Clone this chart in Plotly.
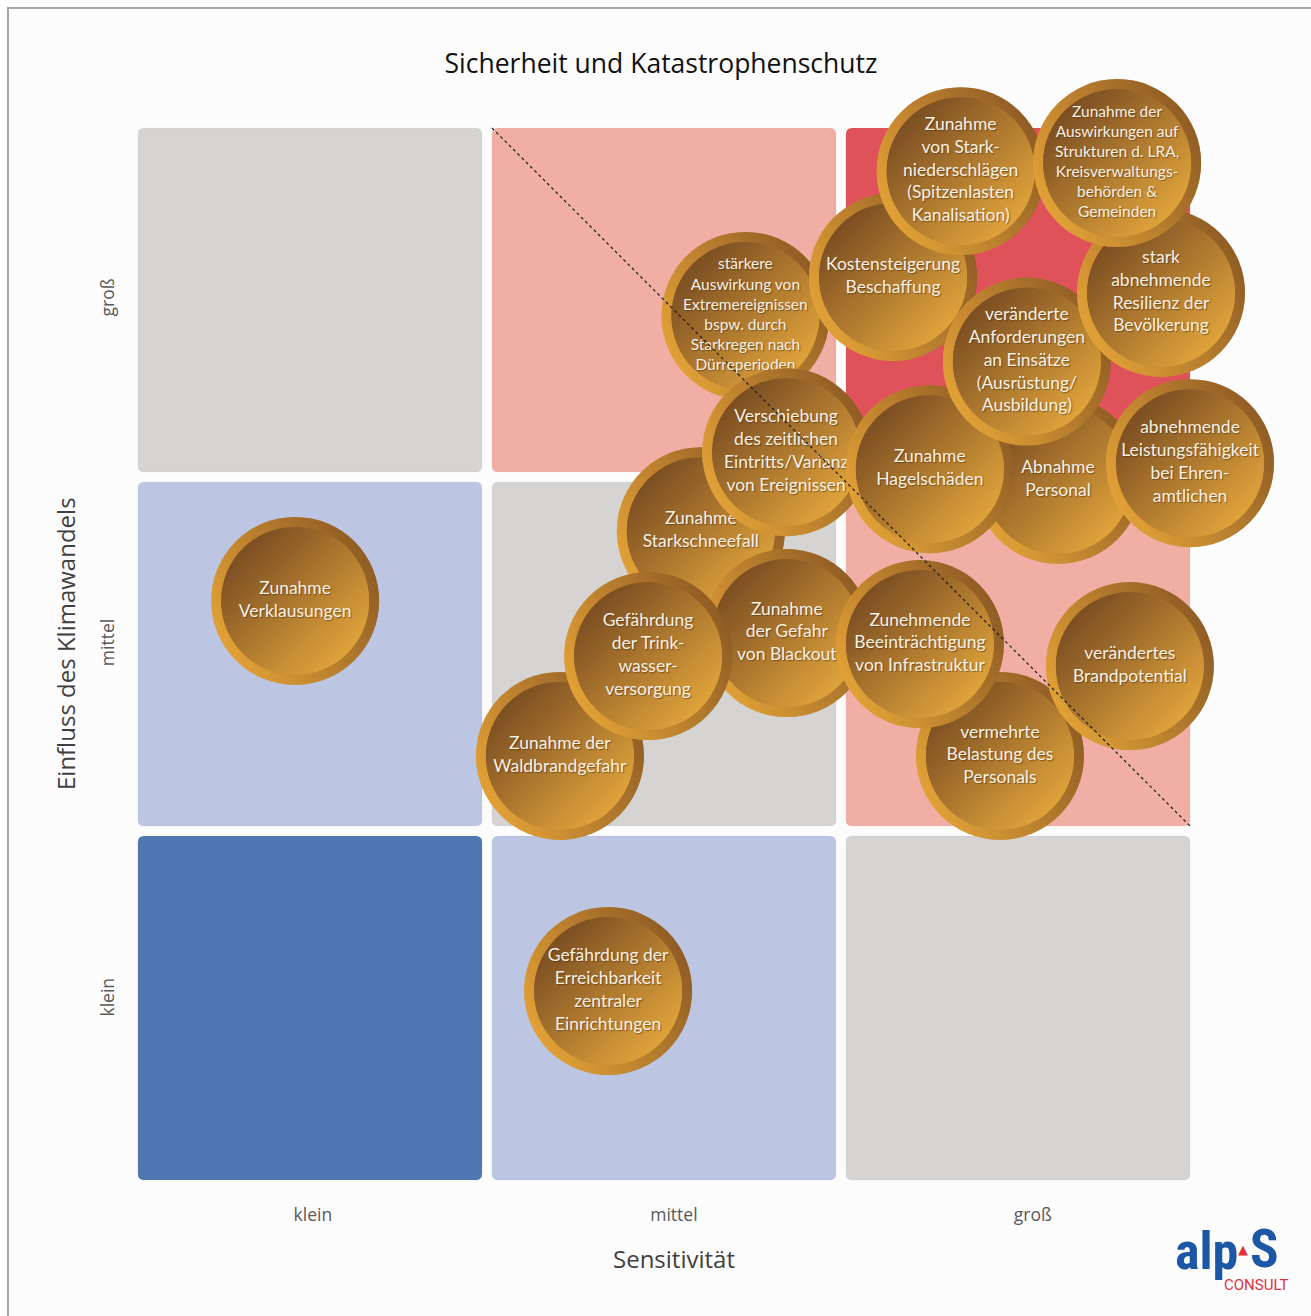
import plotly.graph_objects as go

# ---- matrix axes -------------------------------------------------------
levels = ["klein", "mittel", "groß"]
x_label_pos = [0.508, 1.528, 2.542]
y_label_pos = [0.523, 1.525, 2.5]

# fill colour of each matrix cell: rows = Einfluss (klein..groß), cols = Sensitivität
cell_colors = [
    ["#4f78b3", "#bcc6e3", "#d5d4d3"],
    ["#bcc6e3", "#d5d4d3", "#f0aea5"],
    ["#d5d4d3", "#f0aea5", "#e0525a"],
]

# ---- risks (listed in drawing order, back to front) ---------------------
risk_labels = [
    "stärkere<br>Auswirkung von<br>Extremereignissen<br>bspw. durch<br>Starkregen nach<br>Dürreperioden",
    "Kostensteigerung<br>Beschaffung",
    "Zunahme<br>von Stark-<br>niederschlägen<br>(Spitzenlasten<br>Kanalisation)",
    "Zunahme<br>Starkschneefall",
    "Verschiebung<br>des zeitlichen<br>Eintritts/Varianz<br>von Ereignissen",
    "Abnahme<br>Personal",
    "Zunahme<br>Hagelschäden",
    "veränderte<br>Anforderungen<br>an Einsätze<br>(Ausrüstung/<br>Ausbildung)",
    "stark<br>abnehmende<br>Resilienz der<br>Bevölkerung",
    "Zunahme der<br>Auswirkungen auf<br>Strukturen d. LRA,<br>Kreisverwaltungs-<br>behörden &<br>Gemeinden",
    "abnehmende<br>Leistungsfähigkeit<br>bei Ehren-<br>amtlichen",
    "Zunahme der<br>Waldbrandgefahr",
    "Zunahme<br>der Gefahr<br>von Blackout",
    "Gefährdung<br>der Trink-<br>wasser-<br>versorgung",
    "vermehrte<br>Belastung des<br>Personals",
    "Zunehmende<br>Beeinträchtigung<br>von Infrastruktur",
    "verändertes<br>Brandpotential",
    "Zunahme<br>Verklausungen",
    "Gefährdung der<br>Erreichbarkeit<br>zentraler<br>Einrichtungen",
]
sensitivity = [1.73, 2.147, 2.338, 1.604, 1.845, 2.613, 2.251, 2.525, 2.904, 2.780,
               2.986, 1.206, 1.847, 1.455, 2.449, 2.223, 2.816, 0.458, 1.342]
influence = [2.455, 2.565, 2.864, 1.847, 2.070, 1.992, 2.022, 2.326, 2.520, 2.887,
             2.039, 1.212, 1.559, 1.494, 1.212, 1.528, 1.466, 1.650, 0.548]
label_font_size = [15.5, 17.5, 17.5, 17.5, 17.5, 17.5, 17.5, 17.5, 17.5, 15.5,
                   17.5, 17.5, 17.5, 17.5, 17.5, 17.5, 17.5, 17.5, 17.5]

TITLE = "Sicherheit und Katastrophenschutz"
X_TITLE = "Sensitivität"
Y_TITLE = "Einfluss des Klimawandels"

# ---- page geometry -----------------------------------------------------
W, H = 1311, 1316
M_L, M_R, M_T, M_B = 133, 116, 123, 131
PLOT_W = W - M_L - M_R
PLOT_H = H - M_T - M_B


def px_x(px):
    return (px - M_L) / PLOT_W


def px_y(py):
    return (H - M_B - py) / PLOT_H


def rounded_rect(x0, y0, x1, y1, r):
    return (f"M{x0 + r},{y0} L{x1 - r},{y0} Q{x1},{y0} {x1},{y0 + r} "
            f"L{x1},{y1 - r} Q{x1},{y1} {x1 - r},{y1} L{x0 + r},{y1} "
            f"Q{x0},{y1} {x0},{y1 - r} L{x0},{y0 + r} Q{x0},{y0} {x0 + r},{y0} Z")


fig = go.Figure()

shapes = []
# page frame
shapes.append(dict(type="rect", xref="paper", yref="paper",
                   x0=px_x(8), x1=px_x(1318), y0=px_y(1322), y1=px_y(8),
                   fillcolor="#fcfcfc", line=dict(color="#a6a6a6", width=2), layer="below"))

gap = 0.014
rad = 0.018
for row in range(3):
    for col in range(3):
        shapes.append(dict(type="path", xref="x", yref="y",
                           path=rounded_rect(col + gap, row + gap, col + 1 - gap, row + 1 - gap, rad),
                           fillcolor=cell_colors[row][col],
                           line=dict(width=0.6, color="rgba(0,0,0,0.06)"), layer="below"))

# diagonal separating line across the upper-right cells
shapes.append(dict(type="line", xref="x", yref="y",
                   x0=1 + gap, y0=3 - gap, x1=3 - gap, y1=1 + gap,
                   line=dict(color="#1a1a1a", width=1.2, dash="dot"), layer="above"))

RING = 168
DISK = 148
BUBBLE_FONT = "Lato, Open Sans, sans-serif"
for lab, xs, ys, fs in zip(risk_labels, sensitivity, influence, label_font_size):
    # outer rim: gold on the left/bottom, brown towards the upper right
    fig.add_trace(go.Scatter(
        x=[xs], y=[ys], mode="markers", hoverinfo="skip", showlegend=False, cliponaxis=False,
        marker=dict(size=RING, color="#f0ab38", line=dict(width=0),
                    gradient=dict(type="horizontal", color="#70431c"))))
    fig.add_trace(go.Scatter(
        x=[xs], y=[ys], mode="markers", hoverinfo="skip", showlegend=False, cliponaxis=False,
        marker=dict(size=RING, color="rgba(150,96,40,0.45)", line=dict(width=0),
                    gradient=dict(type="vertical", color="rgba(240,176,60,0.45)"))))
    # inner disc: dark brown top-left to gold bottom-right
    fig.add_trace(go.Scatter(
        x=[xs], y=[ys], mode="markers", hoverinfo="skip", showlegend=False, cliponaxis=False,
        marker=dict(size=DISK, color="#673d1d", line=dict(width=0),
                    gradient=dict(type="horizontal", color="#f4b440"))))
    fig.add_trace(go.Scatter(
        x=[xs], y=[ys], mode="markers+text", hoverinfo="skip", showlegend=False, cliponaxis=False,
        text=[lab], textposition="middle center",
        textfont=dict(family=BUBBLE_FONT, size=fs, color="#f8f1e4",
                      shadow="1px 1px 1px rgba(70,40,10,0.55)"),
        marker=dict(size=DISK, color="rgba(103,61,29,0.5)", line=dict(width=0),
                    gradient=dict(type="vertical", color="rgba(244,180,64,0.5)"))))

AXIS_TITLE_FONT = dict(family="Open Sans, sans-serif", size=24, color="#404040")
annotations = [
    # axis titles
    dict(xref="x", yref="paper", x=(674 - M_L) / PLOT_W * 3, y=px_y(1258),
         xanchor="center", yanchor="middle", text=X_TITLE, showarrow=False,
         font=AXIS_TITLE_FONT),
    dict(xref="paper", yref="y", x=px_x(65), y=3 - (644 - M_T) / PLOT_H * 3,
         xanchor="center", yanchor="middle", text=Y_TITLE, textangle=-90, showarrow=False,
         font=AXIS_TITLE_FONT),
    # company logo
    dict(xref="paper", yref="paper", x=px_x(1240), y=px_y(1251), xanchor="right", yanchor="middle",
         text="<b>alp</b>", showarrow=False,
         font=dict(family="Roboto Condensed, Roboto, sans-serif", size=52, color="#1c57a5")),
    dict(xref="paper", yref="paper", x=px_x(1243), y=px_y(1249), xanchor="center", yanchor="middle",
         text="▲", showarrow=False,
         font=dict(family="DejaVu Sans, sans-serif", size=13, color="#e0323c")),
    dict(xref="paper", yref="paper", x=px_x(1248), y=px_y(1249), xanchor="left", yanchor="middle",
         text="<b>S</b>", showarrow=False,
         font=dict(family="Roboto Condensed, Roboto, sans-serif", size=53, color="#1c57a5")),
    dict(xref="paper", yref="paper", x=px_x(1256), y=px_y(1285), xanchor="center", yanchor="middle",
         text="CONSULT", showarrow=False,
         font=dict(family="Roboto, sans-serif", size=15, color="#e0323c")),
]

fig.update_layout(
    width=W, height=H,
    margin=dict(l=M_L, r=M_R, t=M_T, b=M_B, autoexpand=False),
    paper_bgcolor="#ffffff", plot_bgcolor="rgba(0,0,0,0)",
    title=dict(text=TITLE, x=661 / W, xanchor="center", y=1 - 64 / H, yanchor="middle",
               yref="container",
               font=dict(family="Open Sans, sans-serif", size=26.5, color="#111111")),
    shapes=shapes, annotations=annotations,
    xaxis=dict(range=[0, 3], showgrid=False, zeroline=False, showline=False,
               tickvals=x_label_pos, ticktext=levels, ticks="", ticklabelstandoff=17,
               tickfont=dict(family="Open Sans, sans-serif", size=17.5, color="#595959"),
               fixedrange=True),
    yaxis=dict(range=[0, 3], showgrid=False, zeroline=False, showline=False,
               tickvals=y_label_pos, ticktext=levels, ticks="", tickangle=-90,
               ticklabelstandoff=15,
               tickfont=dict(family="Open Sans, sans-serif", size=17.5, color="#595959"),
               fixedrange=True),
)

fig.write_html("out.html")
